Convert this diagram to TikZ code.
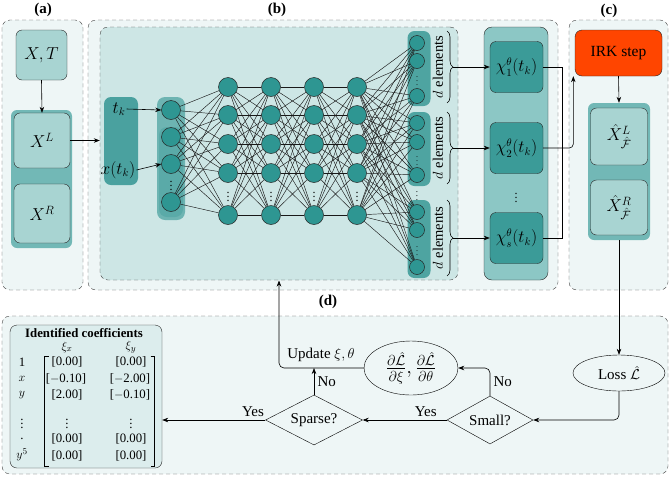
\documentclass[tikz,border=0pt]{standalone}
\usepackage{amsmath}
\usepackage{fontspec}
\setmainfont{Liberation Serif}
\usetikzlibrary{shapes.geometric,decorations.pathreplacing,arrows.meta}
\definecolor{panelbg}{HTML}{EEF6F6}
\definecolor{innerb}{HTML}{CDE6E5}
\definecolor{lightbox}{HTML}{A8D4D2}
\definecolor{grpcol}{HTML}{72B8B6}
\definecolor{tkcol}{HTML}{4AA19F}
\definecolor{nodecol}{HTML}{2E9692}
\definecolor{inbarA}{HTML}{6DB4B2}
\definecolor{inbarB}{HTML}{5AAAA8}
\definecolor{outbar}{HTML}{4EA4A1}
\definecolor{chibar}{HTML}{8CC7C5}
\definecolor{chinode}{HTML}{3B9B98}
\definecolor{irkcol}{HTML}{FF4500}
\definecolor{coefbg}{HTML}{DCEDED}
\pgfdeclarelayer{back}
\pgfdeclarelayer{edges}
\pgfsetlayers{back,edges,main}
\begin{document}
\begin{tikzpicture}[x=1pt,y=-1pt,
  >={Stealth[length=6pt,width=4.5pt]},
  line width=0.6pt,
  font=\fontsize{15}{18}\selectfont,
  panel/.style={draw=black!75, dash pattern=on 4pt off 3pt, rounded corners=8pt, fill=panelbg, inner sep=0pt},
  ttl/.style={font=\fontsize{15}{18}\selectfont\bfseries},
  box/.style={draw=black!85, rounded corners=6pt, fill=lightbox, inner sep=0pt, font=\fontsize{17}{20}\selectfont},
  grp/.style={fill=grpcol, rounded corners=6pt, inner sep=0pt},
  neuron/.style={circle, draw=black!85, fill=nodecol, minimum size=19pt, inner sep=0pt, line width=0.5pt},
  oneuron/.style={neuron, minimum size=15pt},
  edge/.style={line width=0.45pt, black!90},
  arr/.style={->, line width=0.6pt},
  vd/.style={inner sep=0pt, font=\fontsize{12}{12}\selectfont},
  brc/.style={decorate, decoration={brace, amplitude=6pt}, line width=0.6pt},
  cf/.style={inner sep=0pt, font=\fontsize{12.8}{15}\selectfont}
]
\useasboundingbox (0,0) rectangle (671,477);

% ---------- panels ----------
\begin{pgfonlayer}{back}
\node[panel, minimum width=81pt, minimum height=270pt] (pa) at (42.5,155) {};
\node[panel, minimum width=470pt, minimum height=270pt] (pb) at (323,155) {};
\node[panel, fill=innerb, minimum width=358pt, minimum height=253pt] (pbin) at (279,153.5) {};
\node[panel, minimum width=99pt, minimum height=270pt] (pc) at (618.5,155) {};
\node[panel, minimum width=666pt, minimum height=158pt] (pd) at (335,395) {};
% group bars
\node[grp, minimum width=61pt, minimum height=138pt] (grpA) at (41.5,179) {};
\node[fill=tkcol, rounded corners=7pt, inner sep=0pt, minimum width=34pt, minimum height=88pt] (tkbox) at (121,141) {};
\node[fill=inbarA, rounded corners=8pt, inner sep=0pt, minimum width=28pt, minimum height=123pt] (inbarA) at (171,158.5) {};
\node[fill=inbarB, rounded corners=8pt, inner sep=0pt, minimum width=24pt, minimum height=90pt] (inbarB) at (171,172) {};
\node[fill=outbar, rounded corners=7pt, inner sep=0pt, minimum width=23pt, minimum height=75pt] (ob1) at (419,68.5) {};
\node[fill=outbar, rounded corners=7pt, inner sep=0pt, minimum width=23pt, minimum height=74pt] (ob2) at (419,149) {};
\node[fill=outbar, rounded corners=7pt, inner sep=0pt, minimum width=23pt, minimum height=78pt] (ob3) at (419,239) {};
\node[grp, minimum width=62pt, minimum height=137pt] (grpC) at (619,171.5) {};
\end{pgfonlayer}

% titles
\node[ttl] (ta) at (43,10) {(a)};
\node[ttl] (tb) at (277,10) {(b)};
\node[ttl] (tc) at (609,11) {(c)};
\node[ttl] (td) at (328,302) {(d)};

% ---------- panel (a) ----------
\node[box, minimum width=51pt, minimum height=50pt] (XT) at (41.5,55) {$X,T$};
\node[box, minimum width=56pt, minimum height=55pt] (XL) at (42,140.5) {$X^{L}$};
\node[box, minimum width=56pt, minimum height=59pt] (XR) at (42,213.5) {$X^{R}$};
\draw[arr] (XT.south) -- (XL.north);
\draw[arr] (XL.east) -- (XL.east -| pbin.west);

% ---------- panel (b) ----------
\node[inner sep=1pt, font=\fontsize{16}{18}\selectfont] (tk) at (119,109) {$t_k$};
\node[inner sep=1pt, font=\fontsize{16}{18}\selectfont] (xtk) at (118,170) {$x(t_k)$};
\foreach \y [count=\i] in {110,137,164,202}
  \node[neuron] (i\i) at (171,\y) {};
\node[vd] (id) at (171,183) {$\vdots$};
\draw[arr] (tk.east) -- (i1.west);
\draw[arr] (xtk.east) -- (i3.west);

\foreach \x [count=\c] in {228,271,314,357} {
  \foreach \y [count=\r] in {87,115,144,173,215}
    \node[neuron] (h\c-\r) at (\x,\y) {};
  \node[vd] (hd\c) at (\x,194) {$\vdots$};
}
\foreach \y [count=\k] in {43,61,96,123,142,175,212,230,267}
  \node[oneuron] (o\k) at (417,\y) {};
\node[vd, font=\fontsize{8}{8}\selectfont] (od1) at (417,78.5) {$\vdots$};
\node[vd, font=\fontsize{8}{8}\selectfont] (od2) at (417,158.5) {$\vdots$};
\node[vd, font=\fontsize{8}{8}\selectfont] (od3) at (417,248.5) {$\vdots$};
\node[vd, font=\fontsize{9}{9}\selectfont] (od4) at (417,193) {$\vdots$};

\begin{pgfonlayer}{edges}
\foreach \a in {1,...,4}
  \foreach \b in {1,...,5}
    \draw[edge] (i\a) -- (h1-\b);
\foreach \c/\n in {1/2,2/3,3/4}
  \foreach \a in {1,...,5}
    \foreach \b in {1,...,5}
      \draw[edge] (h\c-\a) -- (h\n-\b);
\foreach \a in {1,...,5}
  \foreach \b in {1,...,9}
    \draw[edge] (h4-\a) -- (o\b);
\end{pgfonlayer}

% braces and labels
\draw[brc] (447,31) -- (447,103);
\draw[brc] (447,112) -- (447,184);
\draw[brc] (447,200) -- (447,276);
\node[rotate=90, inner sep=0pt, font=\fontsize{14.5}{16}\selectfont] (de1) at (438,67) {$d$ elements};
\node[rotate=90, inner sep=0pt, font=\fontsize{14.5}{16}\selectfont] (de2) at (438,148) {$d$ elements};
\node[rotate=90, inner sep=0pt, font=\fontsize{14.5}{16}\selectfont] (de3) at (438,238) {$d$ elements};
\coordinate (bt1) at (453,67);
\coordinate (bt2) at (453,148);
\coordinate (bt3) at (453,238);

% chi column
\node[draw=black!85, fill=chibar, rounded corners=8pt, inner sep=0pt, minimum width=64pt, minimum height=253pt] (chicol) at (516,153.5) {};
\node[box, fill=chinode, minimum width=53pt, minimum height=51pt, font=\fontsize{16}{18}\selectfont] (chi1) at (516.5,67) {$\chi_1^{\theta}(t_k)$};
\node[box, fill=chinode, minimum width=53pt, minimum height=51pt, font=\fontsize{16}{18}\selectfont] (chi2) at (516.5,148) {$\chi_2^{\theta}(t_k)$};
\node[box, fill=chinode, minimum width=53pt, minimum height=51pt, font=\fontsize{16}{18}\selectfont] (chis) at (516.5,238) {$\chi_s^{\theta}(t_k)$};
\node[vd] (chid) at (516,195) {$\vdots$};
\draw[arr] (bt1) -- (chi1.west);
\draw[arr] (bt2) -- (chi2.west);
\draw[arr] (bt3) -- (chis.west);

% ---------- panel (c) ----------
\node[box, fill=irkcol, rounded corners=7pt, minimum width=87pt, minimum height=46pt, font=\fontsize{15.5}{18}\selectfont] (IRK) at (618.5,53) {IRK\ step};
\node[box, minimum width=57pt, minimum height=57pt] (hXL) at (619,136.5) {$\hat{X}^{L}_{\hat{\mathcal{F}}}$};
\node[box, minimum width=57pt, minimum height=55pt] (hXR) at (619,207.5) {$\hat{X}^{R}_{\hat{\mathcal{F}}}$};
\draw[arr] (IRK.south) -- (grpC.north);

% bus from chi nodes to IRK
\coordinate (bus) at (562,0);
\draw (chi1.east) -- (chi1.east -| bus) -- (chis.east -| bus) -- (chis.east);
\draw[arr, rounded corners=4pt] (chi2.east) -| ([xshift=-1.5pt]IRK.south west);

% ---------- panel (d) ----------
\node[draw, ellipse, inner sep=0pt, minimum width=92pt, minimum height=36pt] (Loss) at (619,373) {Loss $\hat{\mathcal{L}}$};
\node[draw, ellipse, inner sep=0pt, minimum width=94pt, minimum height=54pt, font=\fontsize{20}{22}\selectfont] (Grad) at (411,368) {$\tfrac{\partial\hat{\mathcal{L}}}{\partial\xi},\tfrac{\partial\hat{\mathcal{L}}}{\partial\theta}$};
\node[draw, diamond, inner sep=0pt, aspect=1.8, minimum width=86pt, minimum height=48pt] (Small) at (490,420) {Small?};
\node[draw, diamond, inner sep=0pt, aspect=1.9, minimum width=97pt, minimum height=50pt] (Sparse) at (314,420) {Sparse?};
\draw[arr] (grpC.south) -- (Loss.north);
\draw[arr, rounded corners=5pt] (Loss.south) |- (Small.east);
\draw[arr, rounded corners=5pt] (Small.north) |- node[pos=0.25, right] (no1) {No} (Grad.east);
\draw[arr] (Small.west) -- node[pos=0.25, above] (yes1) {Yes} (Sparse.east);
\draw[arr] (Sparse.north) -- node[right] (no2) {No} (Sparse.north |- Grad.west);
\coordinate (updtop) at (279,280.5);
\draw[arr, rounded corners=5pt] (Grad.west) -| (updtop);
\node (upd) at (321,355) {Update $\xi,\theta$};

% coefficients box
\node[draw=black!85, fill=coefbg, rounded corners=7pt, inner sep=0pt, minimum width=152pt, minimum height=143pt] (Coef) at (86,396.5) {};
\draw[arr] (Sparse.west) -- node[pos=0.12, above] (yes2) {Yes} (Sparse.west -| Coef.east);
\node[cf, font=\fontsize{12.8}{15}\selectfont\bfseries] (ctitle) at (84,333) {Identified coefficients};
\node[cf] (cx) at (67,347) {$\xi_x$};
\node[cf] (cy) at (131,347) {$\xi_y$};
\node[cf] (r1) at (22,362) {1};
\node[cf] (r2) at (22,379) {$x$};
\node[cf] (r3) at (22,395) {$y$};
\node[cf] (r4) at (22,421) {$\vdots$};
\node[cf] (r5) at (22,439) {.};
\node[cf] (r6) at (22,455) {$y^5$};
\node[cf] (a1) at (67,362) {[0.00]};
\node[cf] (a2) at (66,379) {[$-$0.10]};
\node[cf] (a3) at (67,395) {[2.00]};
\node[cf] (a4) at (67,421) {$\vdots$};
\node[cf] (a5) at (67,439) {[0.00]};
\node[cf] (a6) at (67,456) {[0.00]};
\node[cf] (b1) at (131,362) {[0.00]};
\node[cf] (b2) at (130,379) {[$-$2.00]};
\node[cf] (b3) at (130,395) {[$-$0.10]};
\node[cf] (b4) at (131,421) {$\vdots$};
\node[cf] (b5) at (131,439) {[0.00]};
\node[cf] (b6) at (131,456) {[0.00]};
\draw[line width=0.7pt] (48.5,356) -- (44.5,356) -- (44.5,466) -- (48.5,466);
\draw[line width=0.7pt] (150.5,356) -- (154.5,356) -- (154.5,466) -- (150.5,466);
\end{tikzpicture}
\end{document}
